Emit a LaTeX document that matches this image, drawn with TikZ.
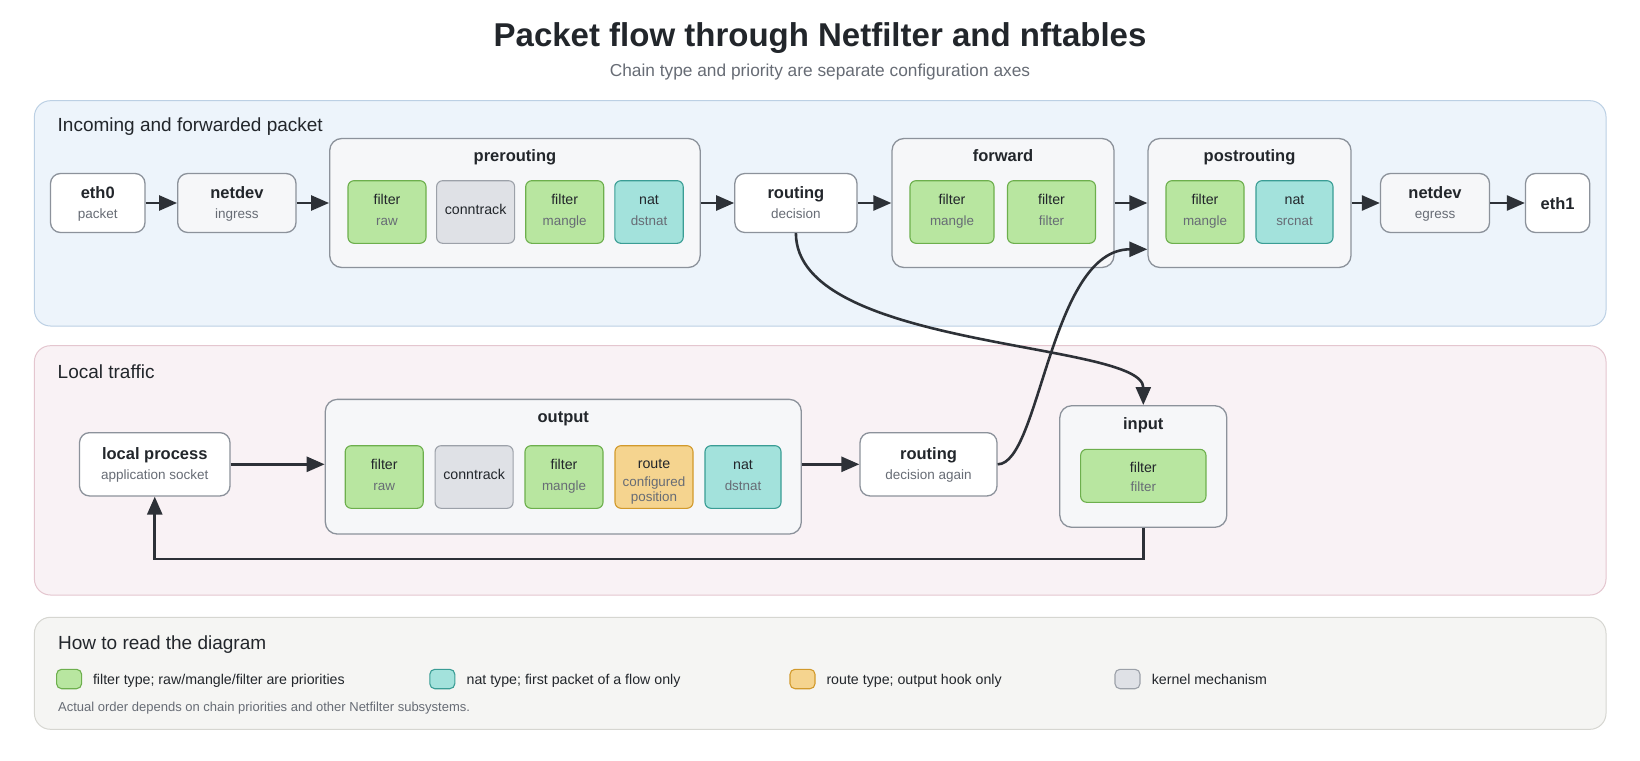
\documentclass[tikz,border=0pt]{standalone}
\usepackage{fontspec}
\setmainfont{Liberation Sans}
\usetikzlibrary{arrows.meta,calc}
\definecolor{ink}{HTML}{22262B}
\definecolor{subc}{HTML}{676C75}
\definecolor{edge}{HTML}{2D3137}
\definecolor{bord}{HTML}{8C929B}
\definecolor{contf}{HTML}{F6F7F9}
\definecolor{pAf}{HTML}{EDF4FB}
\definecolor{pAd}{HTML}{BCD0E4}
\definecolor{pBf}{HTML}{F9F2F5}
\definecolor{pBd}{HTML}{E4C6CF}
\definecolor{pCf}{HTML}{F5F5F3}
\definecolor{pCd}{HTML}{D6D6D1}
\definecolor{filf}{HTML}{B8E6A0}
\definecolor{fild}{HTML}{6DAF4D}
\definecolor{conf}{HTML}{DFE1E6}
\definecolor{cond}{HTML}{9CA1A9}
\definecolor{natf}{HTML}{A3E2DC}
\definecolor{natd}{HTML}{3A9D95}
\definecolor{rtf}{HTML}{F5D48F}
\definecolor{rtd}{HTML}{D29A2C}
\tikzset{
  boxbase/.style={draw=bord, line width=1.3pt, rounded corners=10pt, inner sep=0pt, minimum height=59pt},
  plainbox/.style={boxbase, fill=white},
  softbox/.style={boxbase, fill=contf},
  contbox/.style={draw=bord, line width=1.3pt, fill=contf, rounded corners=12pt, inner sep=0pt},
  chip/.style={line width=1.1pt, rounded corners=6pt, inner sep=0pt, minimum height=62.6pt},
  filt/.style={chip, fill=filf, draw=fild},
  kern/.style={chip, fill=conf, draw=cond},
  natc/.style={chip, fill=natf, draw=natd},
  rtec/.style={chip, fill=rtf, draw=rtd},
  swatch/.style={line width=1.1pt, rounded corners=5pt, inner sep=0pt, minimum width=25pt, minimum height=19.4pt},
  panel/.style={line width=1pt, rounded corners=16pt},
  ntitle/.style={anchor=base, inner sep=0pt, text=ink, font=\fontsize{16.5}{20}\selectfont\bfseries},
  nsub/.style={anchor=base, inner sep=0pt, text=subc, font=\fontsize{13.5}{16}\selectfont},
  ctitle/.style={anchor=base, inner sep=0pt, text=ink, font=\fontsize{16.5}{20}\selectfont\bfseries},
  ctxt/.style={anchor=base, inner sep=0pt, text=ink, font=\fontsize{14.2}{17}\selectfont},
  csub/.style={anchor=base, inner sep=0pt, text=subc, font=\fontsize{13.4}{16}\selectfont},
  plabel/.style={anchor=base west, inner sep=0pt, text=ink, font=\fontsize{19}{22}\selectfont},
  ltxt/.style={anchor=base west, inner sep=0pt, text=ink, font=\fontsize{14.2}{17}\selectfont},
  note/.style={anchor=base west, inner sep=0pt, text=subc, font=\fontsize{13}{15}\selectfont},
  arr/.style={draw=edge, line width=2.6pt, -{Triangle[length=18pt,width=15pt]}},
}
\newcommand\mknode[6]{%
  \node[#4, minimum width=#3] (#1) at #2 {};
  \node[ntitle] (#1t) at ([yshift=5pt]#1.center) {#5};
  \node[nsub] (#1s) at ([yshift=-15.5pt]#1.center) {#6};}
\newcommand\mkchip[6]{%
  \node[#4, minimum width=#3] (#1) at #2 {};
  \node[ctxt] (#1t) at ([yshift=7.7pt]#1.center) {#5};
  \node[csub] (#1s) at ([yshift=-13pt]#1.center) {#6};}
\begin{document}
\begin{tikzpicture}[x=1pt, y=-1pt]
\useasboundingbox (0,0) rectangle (1640,760);
\fill[white] (0,0) rectangle (1640,760);

% title
\node[anchor=base, inner sep=0pt, text=ink, font=\fontsize{33}{38}\selectfont\bfseries] (title) at (820,46.7) {Packet flow through Netfilter and nftables};
\node[anchor=base, inner sep=0pt, text=subc, font=\fontsize{17.3}{20}\selectfont] (subtitle) at (820,76.7) {Chain type and priority are separate configuration axes};

% panels
\draw[panel, fill=pAf, draw=pAd] (34.4,100.7) rectangle (1606,326);
\node[plabel] (pAl) at (57.5,131.7) {Incoming and forwarded packet};
\draw[panel, fill=pBf, draw=pBd] (34.4,345.7) rectangle (1606,595);
\node[plabel] (pBl) at (57.5,378.3) {Local traffic};
\draw[panel, fill=pCf, draw=pCd] (34.4,617.3) rectangle (1606,729.3);
\node[plabel] (pCl) at (58,649.3) {How to read the diagram};

% row 1
\mknode{eth0}{(97.75,203)}{94.5}{plainbox}{eth0}{packet}
\mknode{nin}{(236.85,203)}{118.3}{softbox}{netdev}{ingress}

\node[contbox, minimum width=370.5, minimum height=129] (pre) at (514.95,203) {};
\node[ctitle] (pret) at ([yshift=-24pt]pre.north) {prerouting};
\mkchip{praw}{(387,212)}{78}{filt}{filter}{raw}
\node[kern, minimum width=78] (pct) at (475.6,212) {};
\node[ctxt] (pctt) at ([yshift=-2.5pt]pct.center) {conntrack};
\mkchip{pmg}{(564.7,212)}{78}{filt}{filter}{mangle}
\mkchip{pnat}{(649,212)}{68.4}{natc}{nat}{dstnat}

\mknode{rta}{(795.9,203)}{122.2}{plainbox}{routing}{decision}

\node[contbox, minimum width=222, minimum height=129] (fwd) at (1003,203) {};
\node[ctitle] (fwdt) at ([yshift=-24pt]fwd.north) {forward};
\mkchip{fmg}{(952,212)}{84}{filt}{filter}{mangle}
\mkchip{ffl}{(1051.5,212)}{88}{filt}{filter}{filter}

\node[contbox, minimum width=203, minimum height=129] (post) at (1249.5,203) {};
\node[ctitle] (postt) at ([yshift=-24pt]post.north) {postrouting};
\mkchip{pomg}{(1205,212)}{78}{filt}{filter}{mangle}
\mkchip{posn}{(1294.5,212)}{77}{natc}{nat}{srcnat}

\mknode{neg}{(1435,203)}{109}{softbox}{netdev}{egress}
\node[plainbox, minimum width=64.2] (eth1) at (1557.6,203) {};
\node[ntitle] (eth1t) at ([yshift=-6pt]eth1.center) {eth1};

% row 2
\mknode{lp}{(154.75,464.3)}{150.5}{plainbox, minimum height=63.3}{local process}{application socket}

\node[contbox, minimum width=476, minimum height=134.7] (out) at (563.3,466.7) {};
\node[ctitle] (outt) at ([yshift=-24pt]out.north) {output};
\mkchip{oraw}{(384.2,477)}{78}{filt}{filter}{raw}
\node[kern, minimum width=78] (oct) at (474.1,477) {};
\node[ctxt] (octt) at ([yshift=-2.5pt]oct.center) {conntrack};
\mkchip{omg}{(564,477)}{78}{filt}{filter}{mangle}
\node[rtec, minimum width=78] (ort) at (654,477) {};
\node[ctxt] (ortt) at ([yshift=8.7pt]ort.center) {route};
\node[csub] (orts) at ([yshift=-9pt]ort.center) {configured};
\node[csub] (ortp) at ([yshift=-24pt]ort.center) {position};
\mkchip{onat}{(743,477)}{76}{natc}{nat}{dstnat}

\mknode{rtb}{(928.5,464.3)}{137}{plainbox, minimum height=63.3}{routing}{decision again}

\node[contbox, minimum width=167, minimum height=121.6] (inp) at (1143.3,466.5) {};
\node[ctitle] (inpt) at ([yshift=-24pt]inp.north) {input};
\node[filt, minimum width=125.3, minimum height=53] (ifl) at (1143.3,475.8) {};
\node[ctxt] (iflt) at ([yshift=3.5pt]ifl.center) {filter};
\node[csub] (ifls) at ([yshift=-16pt]ifl.center) {filter};

% connectors
\draw[arr] (eth0.east) -- (nin.west);
\draw[arr] (nin.east) -- (pre.west |- nin.east);
\draw[arr] (pre.east |- rta.west) -- (rta.west);
\draw[arr] (rta.east) -- (fwd.west |- rta.east);
\draw[arr] (fwd.east) -- (post.west);
\draw[arr] (post.east |- neg.west) -- (neg.west);
\draw[arr] (neg.east) -- (eth1.west);
\draw[arr] (lp.east) -- (out.west |- lp.east);
\draw[arr] (out.east |- rtb.west) -- (rtb.west);
\draw[arr] (rta.south) .. controls (796,350) and (1143.3,341) .. (inp.north);
\draw[arr] (rtb.east) .. controls (1040,464.3) and (1050,249.3) .. ([yshift=-46.3pt]post.west);
\draw[arr] (inp.south) -- ++(0,31) -| (lp.south);

% legend
\node[swatch, fill=filf, draw=fild] (lg1) at (69.1,679) {};
\node[ltxt] (lg1t) at (92.8,684) {filter type; raw/mangle/filter are priorities};
\node[swatch, fill=natf, draw=natd] (lg2) at (442.3,679) {};
\node[ltxt] (lg2t) at (466.4,684) {nat type; first packet of a flow only};
\node[swatch, fill=rtf, draw=rtd] (lg3) at (802.5,679) {};
\node[ltxt] (lg3t) at (826.3,684) {route type; output hook only};
\node[swatch, fill=conf, draw=cond] (lg4) at (1127.5,679) {};
\node[ltxt] (lg4t) at (1151.6,684) {kernel mechanism};
\node[note] (foot) at (58,711.7) {Actual order depends on chain priorities and other Netfilter subsystems.};
\end{tikzpicture}
\end{document}
